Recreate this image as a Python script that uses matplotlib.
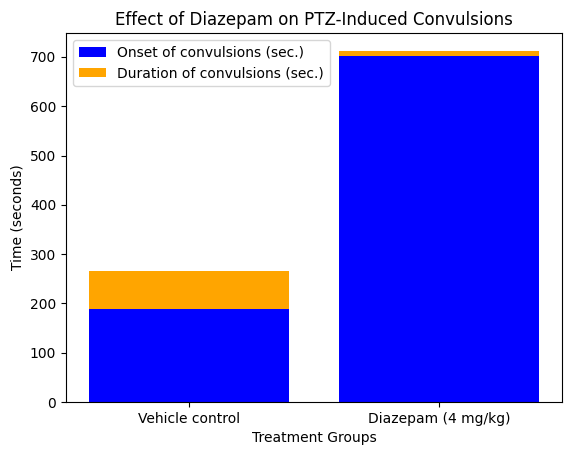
import numpy as np
import matplotlib.pyplot as plt

groups = ['Vehicle control', 'Diazepam (4 mg/kg)']
onset = [188, 703]
duration = [77, 10]

fig, ax = plt.subplots(figsize=(5.71, 4.55), dpi=100)
fig.subplots_adjust(left=66/571, right=562/571, top=1-33/455, bottom=1-402/455)
ax.bar(groups, onset, color='blue', label='Onset of convulsions (sec.)')
ax.bar(groups, duration, bottom=onset, color='orange', label='Duration of convulsions (sec.)')
ax.set_xlabel('Treatment Groups')
ax.set_ylabel('Time (seconds)')
ax.set_title('Effect of Diazepam on PTZ-Induced Convulsions')
ax.legend(loc='upper left')
fig.savefig('out.png')
